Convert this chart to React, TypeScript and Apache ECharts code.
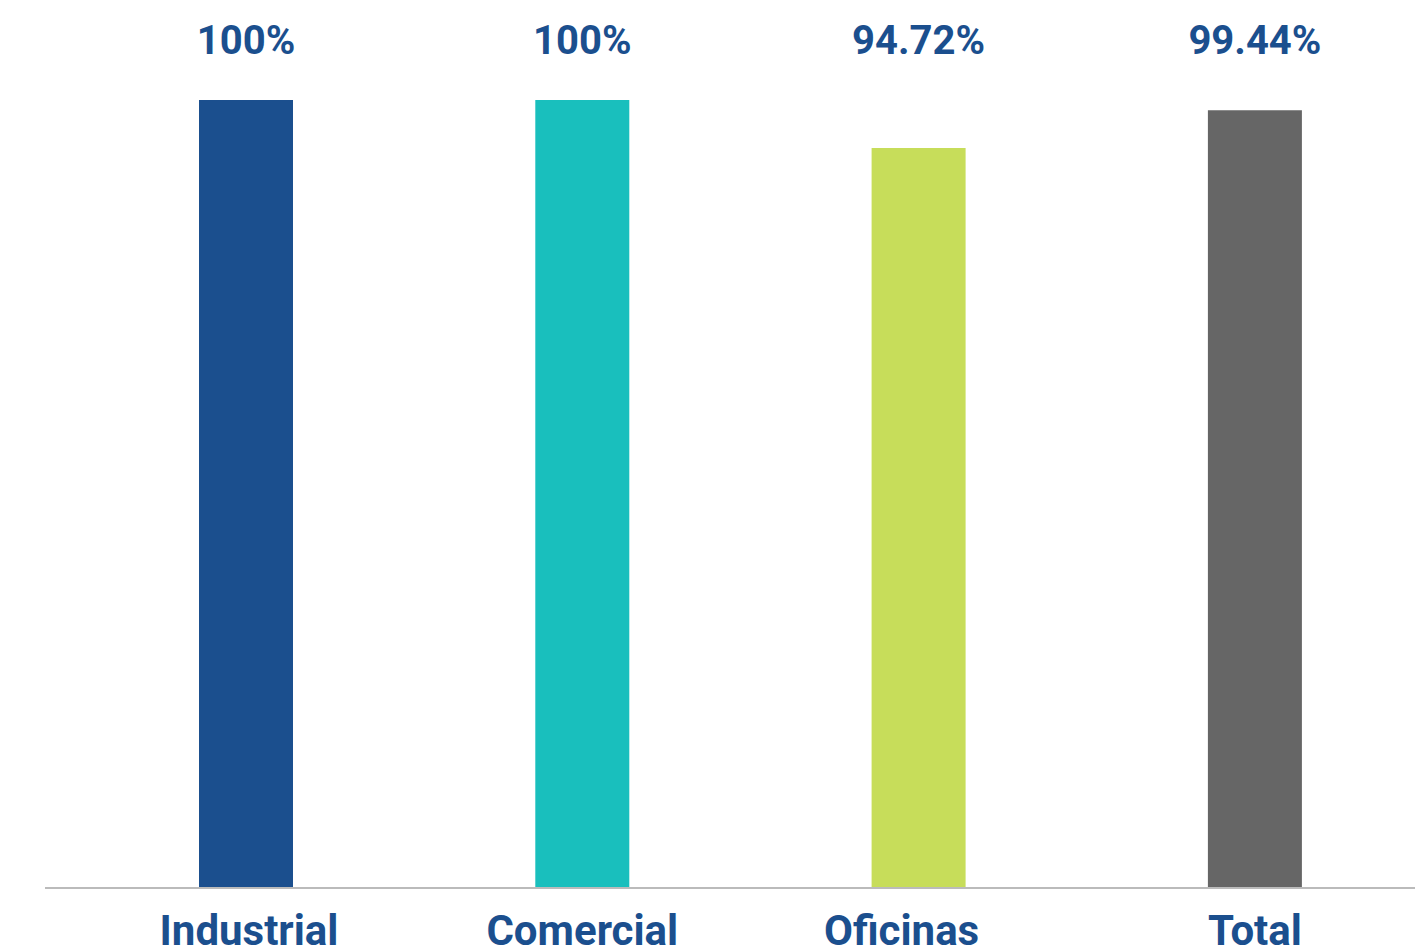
import React, { useEffect, useRef } from "react";
import * as echarts from "echarts";

const categories = ["Industrial", "Comercial", "Oficinas", "Total"];
const barValues = [100, 100, 93.9, 98.7];
const valueLabels = ["100%", "100%", "94.72%", "99.44%"];
const barColors = ["#1b4f8e", "#19bfbd", "#c7dd5a", "#666666"];
const labelRowValues = [100, 100, 100, 100];
const categoryLabelPadding = [
  [0, 0, 0, 6],
  [0, 0, 0, 0],
  [0, 34, 0, 0],
  [0, 0, 0, 0],
];

export default function App() {
  const ref = useRef<HTMLDivElement>(null);
  useEffect(() => {
    if (!ref.current) return;
    const chart = echarts.init(ref.current, null, { renderer: "svg" });
    chart.setOption({
      animation: false,
      backgroundColor: "#ffffff",
      grid: {
        left: 77.85,
        top: 100,
        width: 1345.2,
        bottom: 63,
        containLabel: false,
        outerBoundsMode: "none",
      },
      xAxis: {
        type: "category",
        data: categories.map((c, i) => ({
          value: c,
          textStyle: { padding: categoryLabelPadding[i] },
        })),
        axisLine: { show: false },
        axisTick: { show: false },
        axisLabel: {
          color: "#1b4f8e",
          fontFamily: "Roboto",
          fontWeight: "bold",
          fontSize: 42,
          margin: 22,
        },
      },
      yAxis: { type: "value", min: 0, max: 100, show: false, splitLine: { show: false } },
      graphic: [
        {
          type: "line",
          shape: { x1: 45, y1: 888, x2: 1415, y2: 888 },
          style: { stroke: "#bbbbbb", lineWidth: 2 },
          z: 10,
        },
      ],
      series: [
        {
          type: "bar",
          data: labelRowValues,
          barWidth: 94,
          barGap: "-100%",
          itemStyle: { color: "rgba(0,0,0,0)" },
          label: {
            show: true,
            position: "top",
            distance: 40,
            color: "#1b4f8e",
            fontFamily: "Roboto",
            fontWeight: "bold",
            fontSize: 40,
            formatter: (p: any) => valueLabels[p.dataIndex],
          },
          silent: true,
        },
        {
          type: "bar",
          data: barValues.map((v, i) => ({ value: v, itemStyle: { color: barColors[i] } })),
          barWidth: 94,
          barGap: "-100%",
        },
      ],
    });
    return () => chart.dispose();
  }, []);
  return (
    <div
      ref={ref}
      style={{ position: "absolute", left: 0, top: 0, width: 1415, height: 950 }}
    />
  );
}
